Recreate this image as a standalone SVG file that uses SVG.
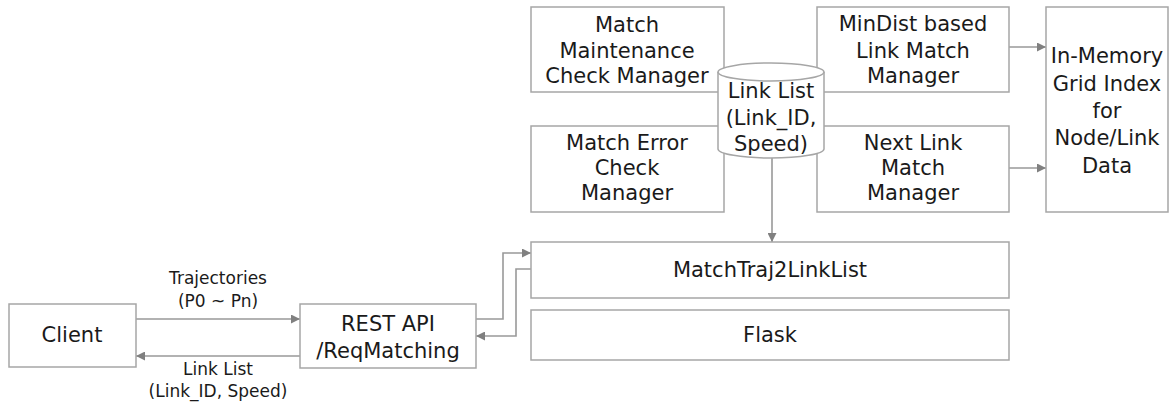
<svg xmlns="http://www.w3.org/2000/svg" width="1175" height="406" viewBox="0 0 1175 406">
  <style>
    .box { fill: #ffffff; stroke: #a6a6a6; stroke-width: 1.5; }
    .lbl { font-family: "DejaVu Sans", "Noto Sans", sans-serif; font-size: 21px; fill: #1a1a1a; text-anchor: middle; }
    .sm { font-size: 17px; }
    .wire { fill: none; stroke: #999999; stroke-width: 1.6; }
  </style>
  <defs>
    <marker id="tri" viewBox="0 0 10 10" refX="10" refY="5" markerWidth="10" markerHeight="9" markerUnits="userSpaceOnUse" orient="auto">
      <path d="M0,0 L10,5 L0,10 z" fill="#808080"/>
    </marker>
  </defs>
  <rect width="1175" height="406" fill="#ffffff"/>

  <!-- connectors -->
  <g id="connectors">
    <line class="wire" x1="1009" y1="47" x2="1046" y2="47" marker-end="url(#tri)"/>
    <line class="wire" x1="1009" y1="168" x2="1046" y2="168" marker-end="url(#tri)"/>
    <line class="wire" x1="772" y1="158" x2="772" y2="242" marker-end="url(#tri)"/>
    <line class="wire" x1="136" y1="319" x2="300" y2="319" marker-end="url(#tri)"/>
    <line class="wire" x1="300" y1="356" x2="136" y2="356" marker-end="url(#tri)"/>
    <polyline class="wire" points="476,319 503,319 503,253 531,253" marker-end="url(#tri)"/>
    <polyline class="wire" points="531,269 516,269 516,336 476,336" marker-end="url(#tri)"/>
  </g>

  <!-- connector labels -->
  <g id="edge-labels">
    <text class="lbl sm" x="218" y="284">Trajectories</text>
    <text class="lbl sm" x="218" y="307">(P0 ~ Pn)</text>
    <text class="lbl sm" x="218" y="375">Link List</text>
    <text class="lbl sm" x="218" y="397">(Link_ID, Speed)</text>
  </g>

  <g id="maintenance">
    <rect class="box" x="531" y="7" width="193" height="85"/>
    <text class="lbl" x="627" y="32">Match</text>
    <text class="lbl" x="627" y="58">Maintenance</text>
    <text class="lbl" x="627" y="83">Check Manager</text>
  </g>

  <g id="error-check">
    <rect class="box" x="531" y="126" width="193" height="86"/>
    <text class="lbl" x="627" y="150">Match Error</text>
    <text class="lbl" x="627" y="175">Check</text>
    <text class="lbl" x="627" y="200">Manager</text>
  </g>

  <g id="mindist">
    <rect class="box" x="817" y="7" width="192" height="85"/>
    <text class="lbl" x="913" y="31">MinDist based</text>
    <text class="lbl" x="913" y="58">Link Match</text>
    <text class="lbl" x="913" y="83">Manager</text>
  </g>

  <g id="next-link">
    <rect class="box" x="817" y="126" width="192" height="86"/>
    <text class="lbl" x="913" y="150">Next Link</text>
    <text class="lbl" x="913" y="175">Match</text>
    <text class="lbl" x="913" y="200">Manager</text>
  </g>

  <g id="grid-index">
    <rect class="box" x="1046" y="7" width="122" height="205"/>
    <text class="lbl" x="1107" y="63">In-Memory</text>
    <text class="lbl" x="1107" y="91">Grid Index</text>
    <text class="lbl" x="1107" y="118">for</text>
    <text class="lbl" x="1107" y="145">Node/Link</text>
    <text class="lbl" x="1107" y="173">Data</text>
  </g>

  <g id="link-list-store">
    <path class="box" d="M718,72 L718,149 A53,9 0 0 0 824,149 L824,72"/>
    <ellipse class="box" cx="771" cy="72" rx="53" ry="9"/>
    <text class="lbl" x="771" y="98">Link List</text>
    <text class="lbl" x="771" y="125">(Link_ID,</text>
    <text class="lbl" x="771" y="151">Speed)</text>
  </g>

  <g id="match-traj">
    <rect class="box" x="531" y="242" width="478" height="56"/>
    <text class="lbl" x="770" y="277">MatchTraj2LinkList</text>
  </g>

  <g id="flask">
    <rect class="box" x="531" y="310" width="478" height="50"/>
    <text class="lbl" x="770" y="342">Flask</text>
  </g>

  <g id="client">
    <rect class="box" x="9" y="304" width="127" height="63"/>
    <text class="lbl" x="72" y="342">Client</text>
  </g>

  <g id="rest-api">
    <rect class="box" x="300" y="304" width="176" height="64"/>
    <text class="lbl" x="388" y="331">REST API</text>
    <text class="lbl" x="388" y="358">/ReqMatching</text>
  </g>
</svg>
